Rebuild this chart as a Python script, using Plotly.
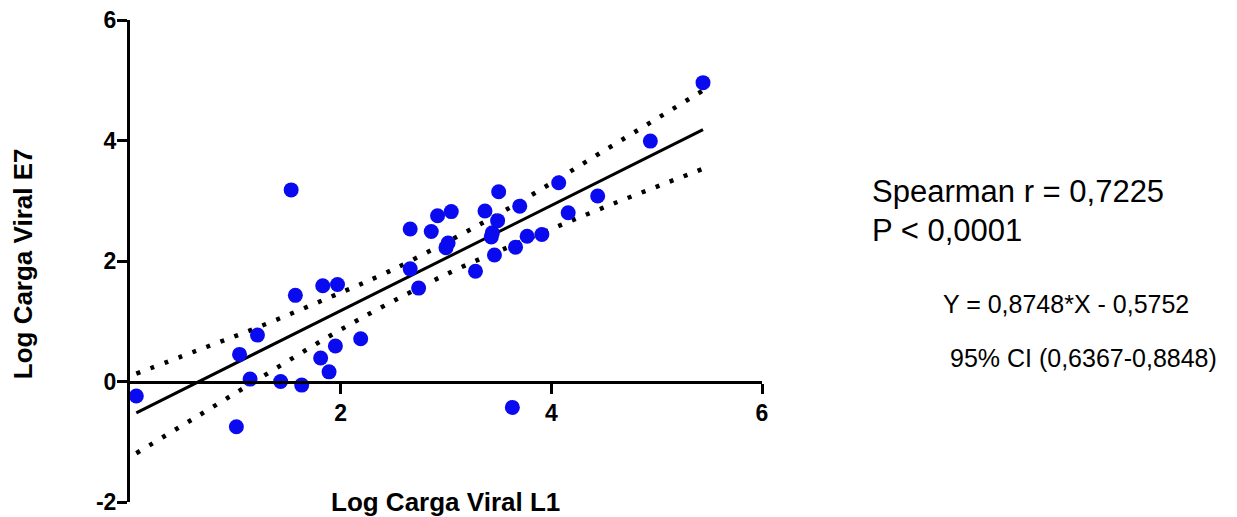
import plotly.graph_objects as go

# Scatter data
x_l1 = [0.06, 1.01, 1.04, 1.14, 1.21, 1.43, 1.53, 1.57, 1.63, 1.81, 1.83, 1.89, 1.95, 1.97,
        2.19, 2.66, 2.66, 2.74, 2.86, 2.92, 3.00, 3.02, 3.05, 3.28, 3.37, 3.43, 3.44, 3.46,
        3.49, 3.50, 3.63, 3.66, 3.70, 3.77, 3.91, 4.07, 4.16, 4.44, 4.94, 5.44]
y_e7 = [-0.24, -0.75, 0.45, 0.04, 0.77, 0.00, 3.18, 1.43, -0.06, 0.39, 1.59, 0.16, 0.59, 1.61,
        0.71, 2.53, 1.87, 1.55, 2.49, 2.75, 2.22, 2.30, 2.82, 1.83, 2.83, 2.40, 2.47, 2.10,
        2.67, 3.15, -0.43, 2.23, 2.91, 2.41, 2.44, 3.30, 2.80, 3.08, 3.99, 4.96]

# Regression line endpoints
fit_x = [0.06, 5.44]
fit_y = [-0.52, 4.18]

# 95% confidence band
band_x = [0.06, 0.6, 1.2, 1.9, 2.45, 3.1, 3.7, 4.5, 5.44]
band_upper = [0.13, 0.49, 0.89, 1.40, 1.82, 2.40, 2.98, 3.83, 4.83]
band_lower = [-1.19, -0.62, 0.02, 0.76, 1.29, 1.86, 2.31, 2.89, 3.53]

x_ticks = [2, 4, 6]
x_ticktext = ["2", "4", "6"]
y_ticks = [-2, 0, 2, 4, 6]
y_ticktext = ["-2", "0", "2", "4", "6"]

stat_line1 = "Spearman r = 0,7225"
stat_line2 = "P < 0,0001"
eq_text = "Y = 0,8748*X - 0,5752"
ci_text = "95% CI (0,6367-0,8848)"
x_title = "Log Carga Viral L1"
y_title = "Log Carga Viral E7"

FONT = "Liberation Sans, Arial, sans-serif"

fig = go.Figure()
for yb in (band_upper, band_lower):
    fig.add_trace(go.Scatter(x=band_x, y=yb, mode="lines",
                             line=dict(color="black", width=4.5, dash="4px,11px", shape="spline"),
                             hoverinfo="skip", showlegend=False, cliponaxis=False))
fig.add_trace(go.Scatter(x=fit_x, y=fit_y, mode="lines",
                         line=dict(color="black", width=3), showlegend=False, cliponaxis=False))
fig.add_trace(go.Scatter(x=x_l1, y=y_e7, mode="markers",
                         marker=dict(color="#0a0af0", size=15, line=dict(width=0)),
                         showlegend=False, cliponaxis=False))

fig.update_layout(
    width=1237, height=517,
    margin=dict(l=130, r=475, t=20, b=15),
    paper_bgcolor="white", plot_bgcolor="white",
    font=dict(family=FONT, color="black"),
    xaxis=dict(range=[0, 6], tickvals=x_ticks, ticktext=x_ticktext, ticks="outside",
               ticklen=10, tickwidth=3, tickcolor="black", showline=True, linewidth=3,
               linecolor="black", showgrid=False, zeroline=False, anchor="free",
               position=0.25, automargin=False,
               tickfont=dict(size=23, family=FONT, color="black", weight="bold")),
    yaxis=dict(range=[-2, 6], tickvals=y_ticks, ticktext=y_ticktext, ticks="outside",
               ticklen=10, tickwidth=3, tickcolor="black", showline=True, linewidth=3,
               linecolor="black", showgrid=False, zeroline=False, automargin=False,
               ticklabelstandoff=-4,
               tickfont=dict(size=23, family=FONT, color="black", weight="bold")),
)

fig.add_annotation(xref="paper", yref="paper", x=0.499, y=0.0, yanchor="middle",
                   text=f"<b>{x_title}</b>", showarrow=False, font=dict(size=26, family=FONT))
fig.add_annotation(xref="paper", yref="paper", x=-0.168, y=0.495, xanchor="center",
                   yanchor="middle", textangle=-90,
                   text=f"<b>{y_title}</b>", showarrow=False, font=dict(size=26, family=FONT))

fig.add_annotation(xref="paper", yref="paper", x=1.171, y=0.645, xanchor="left", yanchor="middle",
                   text=stat_line1, showarrow=False, font=dict(size=31, family=FONT))
fig.add_annotation(xref="paper", yref="paper", x=1.171, y=0.564, xanchor="left", yanchor="middle",
                   text=stat_line2, showarrow=False, font=dict(size=31, family=FONT))
fig.add_annotation(xref="paper", yref="paper", x=1.283, y=0.410, xanchor="left", yanchor="middle",
                   text=eq_text, showarrow=False, font=dict(size=25, family=FONT))
fig.add_annotation(xref="paper", yref="paper", x=1.294, y=0.298, xanchor="left", yanchor="middle",
                   text=ci_text, showarrow=False, font=dict(size=25, family=FONT))

fig.write_html("out.html")
